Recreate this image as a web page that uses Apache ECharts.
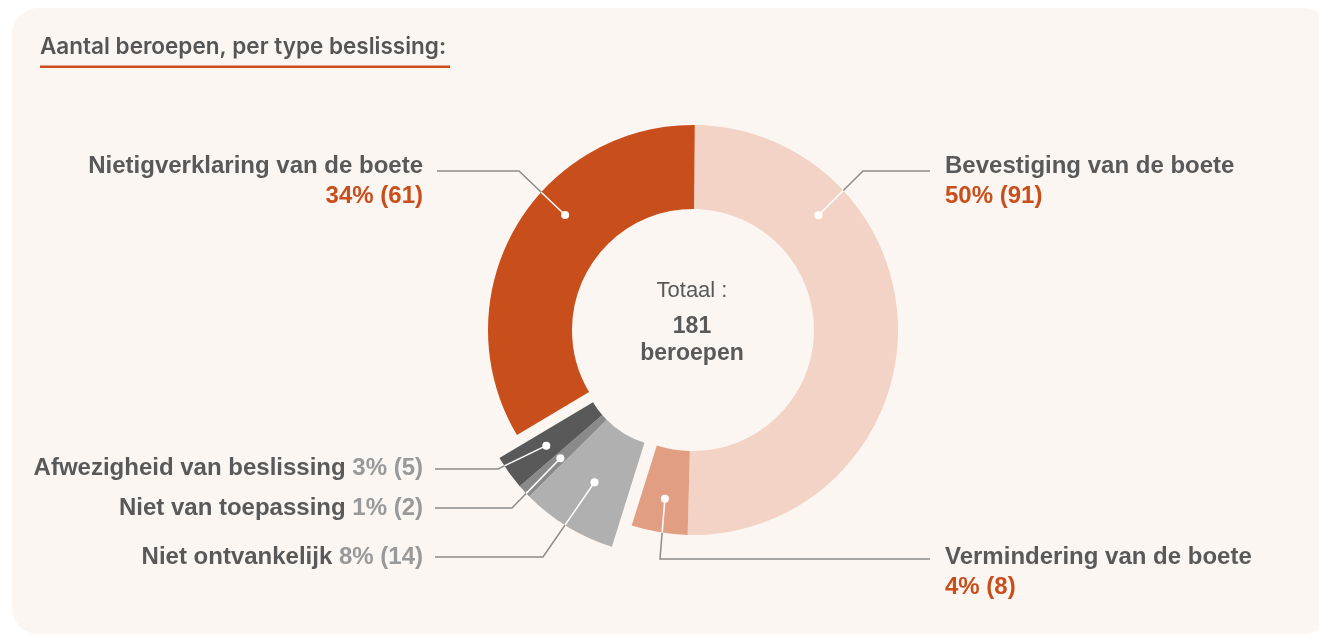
<!DOCTYPE html>
<html>
<head>
<meta charset="utf-8">
<script src="https://cdn.jsdelivr.net/npm/echarts@6/dist/echarts.min.js"></script>
<style>
  html, body { margin: 0; padding: 0; background: #ffffff; }
  #card { position: absolute; left: 12px; top: 8px; width: 1318px; height: 626px; background: #FBF6F1; border-radius: 26px; }
  #main { position: absolute; left: 0; top: 0; width: 1319px; height: 635px; }
</style>
</head>
<body>
<div id="card"></div>
<div id="main"></div>
<script>
// data
const categories = ['Bevestiging van de boete', 'Vermindering van de boete', 'Niet ontvankelijk',
  'Niet van toepassing', 'Afwezigheid van beslissing', 'Nietigverklaring van de boete'];
const values = [91, 8, 14, 2, 5, 61];
const colors = ['#F3D3C6', '#E29E83', '#B0B0B0', '#8A8A8A', '#595959', '#C84E1B'];
const inGreyGroup = [false, false, true, true, true, false];

const total = values.reduce((a, b) => a + b, 0);

// geometry of the two rings (grey group is pulled out)
const START = 89.5;
const MAIN_C = [693, 330], MAIN_R = [121, 205];
const GREY_C = [672, 355], GREY_R = [92, 201];

// where the dot sits inside each slice (fraction of angle, radius)
const dotFrac = [0.26, 0.5, 0.5, 0.5, 0.5, 0.6];
const dotRad = [170, 171, 149, 152, 155, 172];

// label placement
const labelPos = [
  {side: 'right', lineY: 171, elbowX: 863, endX: 930, textY: 151},
  {side: 'right', lineY: 559, elbowX: 660, endX: 930, textY: 542},
  {side: 'left', lineY: 557, elbowX: 543, endX: 435, textY: 542},
  {side: 'left', lineY: 508, elbowX: 512, endX: 435, textY: 493},
  {side: 'left', lineY: 469, elbowX: 498, endX: 435, textY: 453},
  {side: 'left', lineY: 171, elbowX: 519, endX: 437, textY: 151}
];

function polar(c, r, deg) {
  const t = deg * Math.PI / 180;
  return [c[0] + r * Math.sin(t), c[1] - r * Math.cos(t)];
}

function dotPoint(i) {
  let before = 0;
  for (let j = 0; j < i; j++) before += values[j];
  const a0 = (90 - START) + before / total * 360;
  const a1 = a0 + values[i] / total * 360;
  const c = inGreyGroup[i] ? GREY_C : MAIN_C;
  return polar(c, dotRad[i], a0 + (a1 - a0) * dotFrac[i]);
}

function exitPoint(P, E, C, R) {
  const dx = E[0] - P[0], dy = E[1] - P[1];
  const fx = P[0] - C[0], fy = P[1] - C[1];
  const a = dx * dx + dy * dy, b = 2 * (fx * dx + fy * dy), c = fx * fx + fy * fy - R * R;
  const disc = b * b - 4 * a * c;
  if (disc < 0) return P;
  const t = Math.min(1, (-b + Math.sqrt(disc)) / (2 * a));
  return [P[0] + t * dx, P[1] + t * dy];
}

const TXT = {fontFamily: 'Liberation Sans', fontWeight: 'bold', fontSize: 24, lineHeight: 30};

function makeData(grey) {
  return values.map((v, i) => {
    const mine = inGreyGroup[i] === grey;
    return {
      name: categories[i],
      value: v,
      itemStyle: {color: mine ? colors[i] : 'rgba(0,0,0,0)'},
      label: {show: mine},
      labelLine: {show: mine}
    };
  });
}

function labelText(p) {
  const pct = Math.round(p.value / total * 100);
  if (inGreyGroup[p.dataIndex]) return '{name|' + p.name + ' }{gval|' + pct + '% (' + p.value + ')}';
  return '{name|' + p.name + '}\n{oval|' + pct + '% (' + p.value + ')}';
}

function layoutLabel(params) {
  const i = params.dataIndex;
  const lp = labelPos[i];
  const right = lp.side === 'right';
  return {
    x: right ? 945 : 423,
    y: lp.textY,
    align: right ? 'left' : 'right',
    verticalAlign: 'top',
    labelLinePoints: [dotPoint(i), [lp.elbowX, lp.lineY], [lp.endX, lp.lineY]]
  };
}

const pieBase = {
  type: 'pie',
  startAngle: START,
  clockwise: true,
  avoidLabelOverlap: false,
  silent: true,
  label: {
    position: 'outside',
    formatter: labelText,
    rich: {
      name: Object.assign({color: '#595959'}, TXT),
      oval: Object.assign({color: '#C84E1B'}, TXT),
      gval: Object.assign({color: '#999999'}, TXT)
    }
  },
  labelLine: {show: true, lineStyle: {color: '#8c8c8c', width: 1.5}},
  labelLayout: layoutLabel,
  emphasis: {disabled: true}
};

// dots and the white part of the leader lines
const marks = [];
values.forEach((v, i) => {
  const P = dotPoint(i);
  const lp = labelPos[i];
  const c = inGreyGroup[i] ? GREY_C : MAIN_C;
  const r = inGreyGroup[i] ? GREY_R[1] : MAIN_R[1];
  const X = exitPoint(P, [lp.elbowX, lp.lineY], c, r);
  marks.push({type: 'line', z: 100, shape: {x1: P[0], y1: P[1], x2: X[0], y2: X[1]},
    style: {stroke: '#ffffff', lineWidth: 1.5}});
  marks.push({type: 'circle', z: 101, shape: {cx: P[0], cy: P[1], r: 4}, style: {fill: '#ffffff'}});
});

const chart = echarts.init(document.getElementById('main'), null, {renderer: 'canvas'});
chart.setOption({
  backgroundColor: 'transparent',
  animation: false,
  title: {
    text: 'Aantal beroepen, per type beslissing:',
    left: 40,
    top: 36,
    padding: 0,
    textStyle: {fontFamily: 'Inter', fontWeight: 600, fontSize: 22.5, color: '#555555'}
  },
  graphic: [
    {type: 'rect', z: 100, shape: {x: 40, y: 65.5, width: 410, height: 2.5}, style: {fill: '#C84E1B'}},
    {type: 'text', z: 100, style: {x: 692, y: 291, text: 'Totaal :', align: 'center', verticalAlign: 'middle',
      font: '22px "Liberation Sans"', fill: '#595959'}},
    {type: 'text', z: 100, style: {x: 692, y: 327, text: String(total), align: 'center', verticalAlign: 'middle',
      font: 'bold 23px "Liberation Sans"', fill: '#595959'}},
    {type: 'text', z: 100, style: {x: 692, y: 354, text: 'beroepen', align: 'center', verticalAlign: 'middle',
      font: 'bold 23px "Liberation Sans"', fill: '#595959'}}
  ].concat(marks),
  series: [
    Object.assign({}, pieBase, {center: MAIN_C, radius: MAIN_R, data: makeData(false)}),
    Object.assign({}, pieBase, {center: GREY_C, radius: GREY_R, data: makeData(true)})
  ]
});
</script>
</body>
</html>
